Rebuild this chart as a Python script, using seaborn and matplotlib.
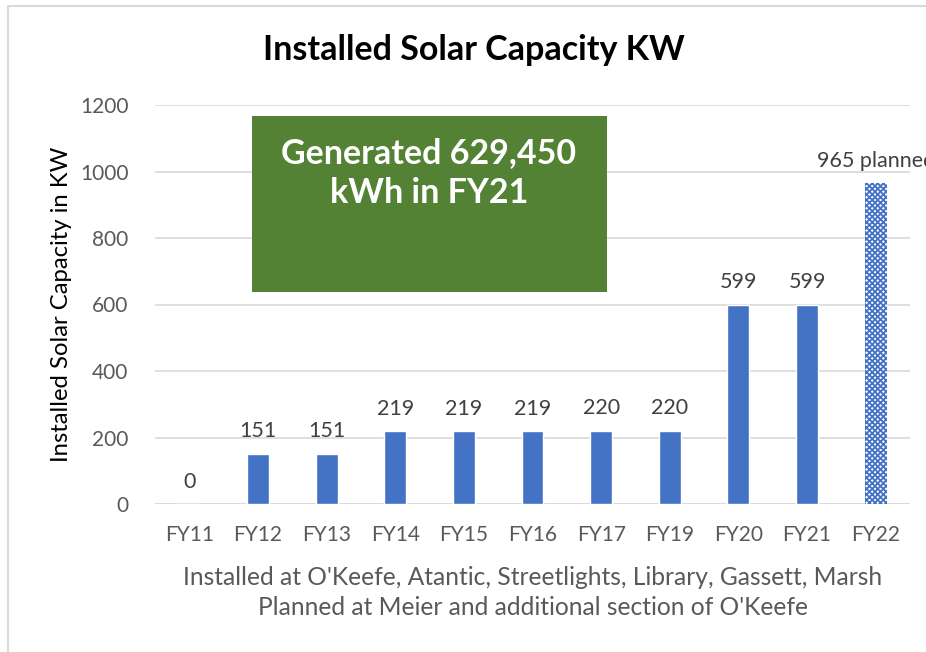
import matplotlib
matplotlib.use("Agg")
import matplotlib.pyplot as plt
import seaborn as sns
import pandas as pd
from matplotlib.patches import Rectangle

years = ["FY11", "FY12", "FY13", "FY14", "FY15", "FY16", "FY17", "FY19", "FY20", "FY21", "FY22"]
capacity_kw = [0, 151, 151, 219, 219, 219, 220, 220, 599, 599, 965]
bar_labels = ["0", "151", "151", "219", "219", "219", "220", "220", "599", "599", "965 planned"]
y_ticks = [0, 200, 400, 600, 800, 1000, 1200]

sns.set_theme(style="white")
plt.rcParams["font.family"] = ["Lato", "DejaVu Sans"]
plt.rcParams["hatch.linewidth"] = 1.3

blue = "#4472C4"
text_gray = "#595959"
grid_gray = "#d9d9d9"

df = pd.DataFrame({"year": years, "kw": capacity_kw})

fig = plt.figure(figsize=(9.26, 6.52), dpi=100)
ax = fig.add_axes([155 / 926, 1 - 504 / 652, (910 - 155) / 926, (504 - 105) / 652])

sns.barplot(data=df, x="year", y="kw", color=blue, width=0.32, saturation=1, ax=ax, zorder=3)

# planned capacity bar drawn with a fine check pattern
planned = ax.patches[-1]
planned.set_facecolor("white")
planned.set_edgecolor(blue)
planned.set_hatch("xxxxxx")
planned.set_linewidth(0)

ax.set_ylim(0, 1200)
ax.set_yticks(y_ticks)
ax.set_xlim(-0.5, len(years) - 0.5)
ax.yaxis.grid(True, color=grid_gray, linewidth=1.2, zorder=0)
ax.set_axisbelow(True)
for s in ax.spines.values():
    s.set_visible(False)
ax.axhline(0, color=grid_gray, linewidth=1.2, zorder=1)
ax.tick_params(axis="both", length=0, colors=text_gray, labelsize=15)
ax.tick_params(axis="x", pad=15)
ax.tick_params(axis="y", pad=19)

for i, (v, lab) in enumerate(zip(capacity_kw, bar_labels)):
    ax.annotate(lab, (i, v), xytext=(0, 9), textcoords="offset points",
                ha="center", va="bottom", fontsize=15.5, color="#404040", clip_on=False)

ax.set_ylabel("Installed Solar Capacity in KW", fontsize=17.2, color="black", labelpad=6)
ax.set_xlabel("Installed at O'Keefe, Atantic, Streetlights, Library, Gassett, Marsh\n"
              "Planned at Meier and additional section of O'Keefe",
              fontsize=17.7, color=text_gray, labelpad=15, linespacing=1.4)

fig.text(474 / 926, 1 - 50 / 652, "Installed Solar Capacity KW", ha="center", va="center",
         fontsize=24.5, fontweight="bold", color="black")

# green callout box
fig.patches.append(Rectangle((252 / 926, 1 - 292 / 652), (607 - 252) / 926, (292 - 116) / 652,
                             transform=fig.transFigure, facecolor="#548235", edgecolor="none",
                             zorder=5))
fig.text(429 / 926, 1 - 173 / 652, "Generated 629,450\nkWh in FY21", ha="center", va="center",
         fontsize=24.5, fontweight="bold", color="white", linespacing=1.3, zorder=6)

# chart frame
fig.patches.append(Rectangle((8 / 926, -0.05), 1.1, 1 - 6 / 652 + 0.05, transform=fig.transFigure,
                             facecolor="none", edgecolor=grid_gray, linewidth=1.5, zorder=0))

fig.savefig("out.png", dpi=100)
